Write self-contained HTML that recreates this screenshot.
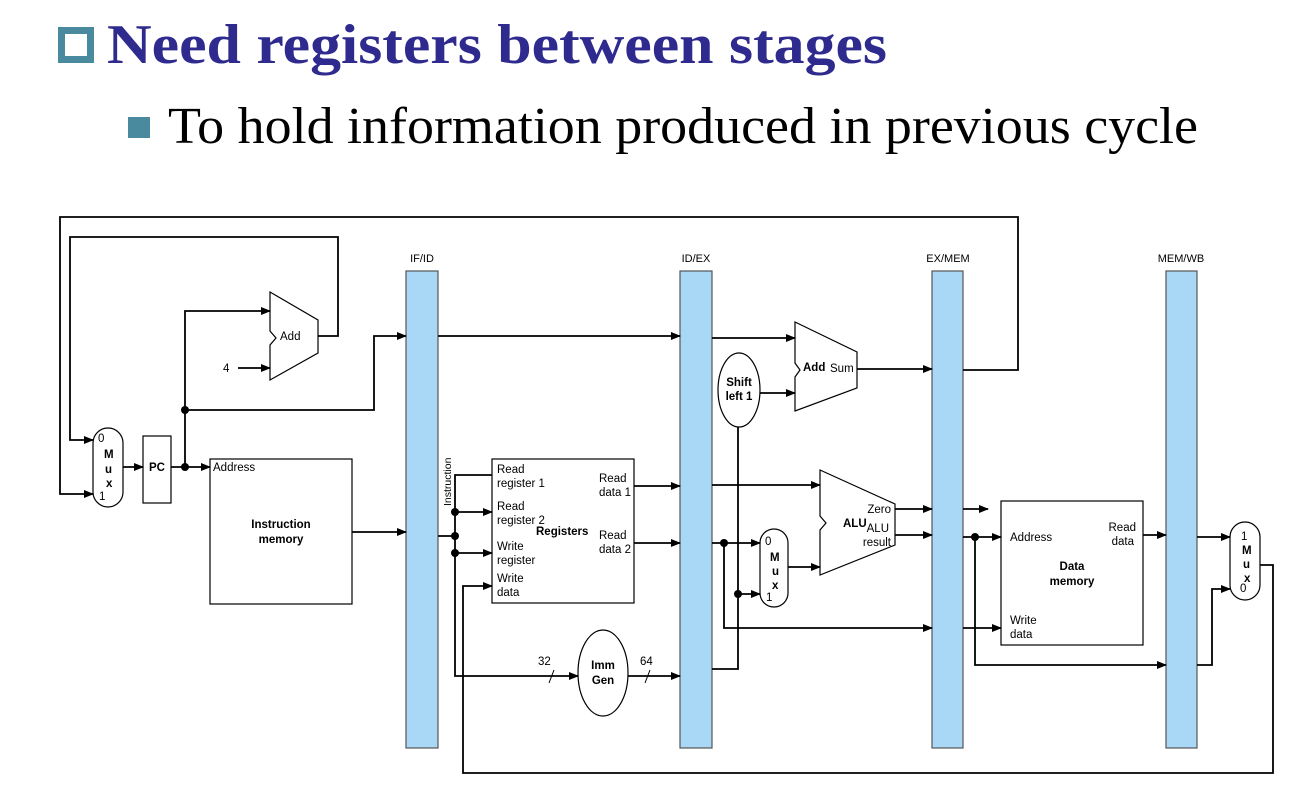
<!DOCTYPE html>
<html><head><meta charset="utf-8"><style>
html,body{margin:0;padding:0;background:#fff;width:1314px;height:796px;overflow:hidden}
svg text{font-family:"Liberation Sans",Arial,sans-serif}
</style></head><body>
<svg width="1314" height="796" viewBox="0 0 1314 796" xmlns="http://www.w3.org/2000/svg">
<defs><marker id="a" markerWidth="10" markerHeight="8" refX="9" refY="4" orient="auto" markerUnits="userSpaceOnUse"><path d="M0,0 L10,4 L0,8 Z" fill="#000"/></marker></defs>
<rect x="61.5" y="30.5" width="29" height="29" fill="none" stroke="#4a8a9e" stroke-width="7"/>
<text x="107" y="63" font-weight="bold" font-size="56" fill="#2e2a8e" textLength="780" lengthAdjust="spacingAndGlyphs" style="font-family:'Liberation Serif',serif">Need registers between stages</text>
<rect x="128" y="117" width="22" height="21" fill="#4a8a9e"/>
<text x="168" y="143" font-size="52" fill="#000" textLength="1030" lengthAdjust="spacingAndGlyphs" style="font-family:'Liberation Serif',serif">To hold information produced in previous cycle</text>

<g fill="#a9d8f7" stroke="#555" stroke-width="1.2">
<rect x="406" y="271" width="32" height="477"/><rect x="680" y="271" width="32" height="477"/>
<rect x="932" y="271" width="31" height="477"/><rect x="1166" y="271" width="31" height="477"/>
</g>
<g font-size="11" text-anchor="middle"><text x="422" y="262">IF/ID</text><text x="696" y="262">ID/EX</text><text x="948" y="262">EX/MEM</text><text x="1181" y="262">MEM/WB</text></g>

<g fill="none" stroke="#000" stroke-width="1.8">
<polyline points="963,370 1018,370 1018,217 60,217 60,494 93,494" marker-end="url(#a)"/>
<polyline points="318,336 338,336 338,237 70,237 70,440 93,440" marker-end="url(#a)"/>
<line x1="123" y1="467" x2="143" y2="467" marker-end="url(#a)"/>
<line x1="171" y1="467" x2="210" y2="467" marker-end="url(#a)"/>
<polyline points="185,467 185,311 270,311" marker-end="url(#a)"/>
<polyline points="185,410 374,410 374,336 406,336" marker-end="url(#a)"/>
<line x1="238" y1="368" x2="270" y2="368" marker-end="url(#a)"/>
<polygon points="270,292 318,320 318,353 270,380 270,345 276,338 270,331" stroke-width="1.2"/>
<rect x="93" y="428" width="30" height="79" rx="15" stroke-width="1.2"/>
<rect x="143" y="436" width="28" height="67" stroke-width="1.2"/>
<rect x="210" y="459" width="142" height="145" stroke-width="1.2"/>
<line x1="352" y1="532" x2="406" y2="532" marker-end="url(#a)"/>
<line x1="438" y1="336" x2="680" y2="336" marker-end="url(#a)"/>
<polyline points="438,536 455,536"/>
<polyline points="492,475 455,475 455,676 578,676" marker-end="url(#a)"/>
<line x1="455" y1="512" x2="492" y2="512" marker-end="url(#a)"/>
<line x1="455" y1="553" x2="492" y2="553" marker-end="url(#a)"/>
<polyline points="1260,565 1273,565 1273,773 463,773 463,586 492,586" marker-end="url(#a)"/>
<rect x="492" y="459" width="142" height="144" stroke-width="1.2"/>
<ellipse cx="603" cy="673" rx="25" ry="43" stroke-width="1.2"/>
<line x1="628" y1="676" x2="680" y2="676" marker-end="url(#a)"/>
<line x1="549" y1="683" x2="554" y2="670" stroke-width="1"/>
<line x1="645" y1="683" x2="650" y2="670" stroke-width="1"/>
<line x1="634" y1="486" x2="680" y2="486" marker-end="url(#a)"/>
<line x1="634" y1="543" x2="680" y2="543" marker-end="url(#a)"/>
<line x1="712" y1="338" x2="795" y2="338" marker-end="url(#a)"/>
<ellipse cx="739" cy="390" rx="21" ry="37" stroke-width="1.2"/>
<line x1="760" y1="393" x2="795" y2="393" marker-end="url(#a)"/>
<polyline points="712,669 738,669 738,427"/>
<line x1="738" y1="594" x2="760" y2="594" marker-end="url(#a)"/>
<polygon points="795,322 857,352 857,388 795,411 795,377 800,370 795,363" stroke-width="1.2"/>
<line x1="857" y1="369" x2="932" y2="369" marker-end="url(#a)"/>
<line x1="712" y1="485" x2="820" y2="485" marker-end="url(#a)"/>
<line x1="712" y1="543" x2="760" y2="543" marker-end="url(#a)"/>
<polyline points="724,543 724,628 932,628" marker-end="url(#a)"/>
<rect x="760" y="529" width="28" height="78" rx="14" stroke-width="1.2"/>
<line x1="788" y1="567" x2="820" y2="567" marker-end="url(#a)"/>
<polygon points="820,470 895,504 895,545 820,575 820,530 826,523 820,516" stroke-width="1.2"/>
<line x1="895" y1="509" x2="932" y2="509" marker-end="url(#a)"/>
<line x1="895" y1="535" x2="932" y2="535" marker-end="url(#a)"/>
<line x1="963" y1="509" x2="988" y2="509" marker-end="url(#a)"/>
<line x1="963" y1="537" x2="1001" y2="537" marker-end="url(#a)"/>
<polyline points="975,537 975,665 1166,665" marker-end="url(#a)"/>
<line x1="963" y1="628" x2="1001" y2="628" marker-end="url(#a)"/>
<rect x="1001" y="501" width="142" height="144" stroke-width="1.2"/>
<line x1="1143" y1="535" x2="1166" y2="535" marker-end="url(#a)"/>
<line x1="1197" y1="537" x2="1230" y2="537" marker-end="url(#a)"/>
<polyline points="1197,665 1212,665 1212,589 1230,589" marker-end="url(#a)"/>
<rect x="1230" y="522" width="30" height="78" rx="15" stroke-width="1.2"/>
</g>
<g fill="#000">
<circle cx="185" cy="467" r="4"/><circle cx="185" cy="410" r="4"/>
<circle cx="455" cy="512" r="4"/><circle cx="455" cy="536" r="4"/><circle cx="455" cy="553" r="4"/>
<circle cx="724" cy="543" r="4"/><circle cx="738" cy="594" r="4"/><circle cx="975" cy="537" r="4"/>
</g>
<g font-size="11.5">
<text x="280" y="340">Add</text><text x="223" y="372">4</text>
<text x="98" y="442">0</text><text x="104" y="458" font-weight="bold">M</text><text x="105" y="473" font-weight="bold">u</text><text x="106" y="487" font-weight="bold">x</text><text x="99" y="500">1</text>
<text x="157" y="471" font-weight="bold" text-anchor="middle">PC</text>
<text x="213" y="471">Address</text>
<text x="281" y="528" font-weight="bold" text-anchor="middle">Instruction</text><text x="281" y="543" font-weight="bold" text-anchor="middle">memory</text>
<text transform="translate(451,506) rotate(-90)" font-size="10.5">Instruction</text>
<text x="497" y="473">Read</text><text x="497" y="487">register 1</text>
<text x="497" y="510">Read</text><text x="497" y="524">register 2</text>
<text x="536" y="535" font-weight="bold">Registers</text>
<text x="497" y="550">Write</text><text x="497" y="564">register</text>
<text x="497" y="582">Write</text><text x="497" y="596">data</text>
<text x="599" y="482">Read</text><text x="599" y="496">data 1</text>
<text x="599" y="539">Read</text><text x="599" y="553">data 2</text>
<text x="603" y="669" font-weight="bold" text-anchor="middle">Imm</text><text x="603" y="684" font-weight="bold" text-anchor="middle">Gen</text>
<text x="538" y="665">32</text><text x="640" y="665">64</text>
<text x="739" y="386" font-weight="bold" text-anchor="middle">Shift</text><text x="739" y="400" font-weight="bold" text-anchor="middle">left 1</text>
<text x="803" y="371" font-weight="bold">Add</text><text x="830" y="372">Sum</text>
<text x="843" y="527" font-weight="bold">ALU</text>
<text x="891" y="513" text-anchor="end">Zero</text><text x="889" y="532" text-anchor="end">ALU</text><text x="891" y="546" text-anchor="end">result</text>
<text x="765" y="545">0</text><text x="770" y="561" font-weight="bold">M</text><text x="772" y="575" font-weight="bold">u</text><text x="772" y="589" font-weight="bold">x</text><text x="766" y="601">1</text>
<text x="1010" y="541">Address</text>
<text x="1072" y="570" font-weight="bold" text-anchor="middle">Data</text><text x="1072" y="585" font-weight="bold" text-anchor="middle">memory</text>
<text x="1010" y="624">Write</text><text x="1010" y="638">data</text>
<text x="1136" y="531" text-anchor="end">Read</text><text x="1134" y="545" text-anchor="end">data</text>
<text x="1241" y="540">1</text><text x="1242" y="554" font-weight="bold">M</text><text x="1243" y="568" font-weight="bold">u</text><text x="1244" y="582" font-weight="bold">x</text><text x="1240" y="592">0</text>
</g>
</svg>
</body></html>
